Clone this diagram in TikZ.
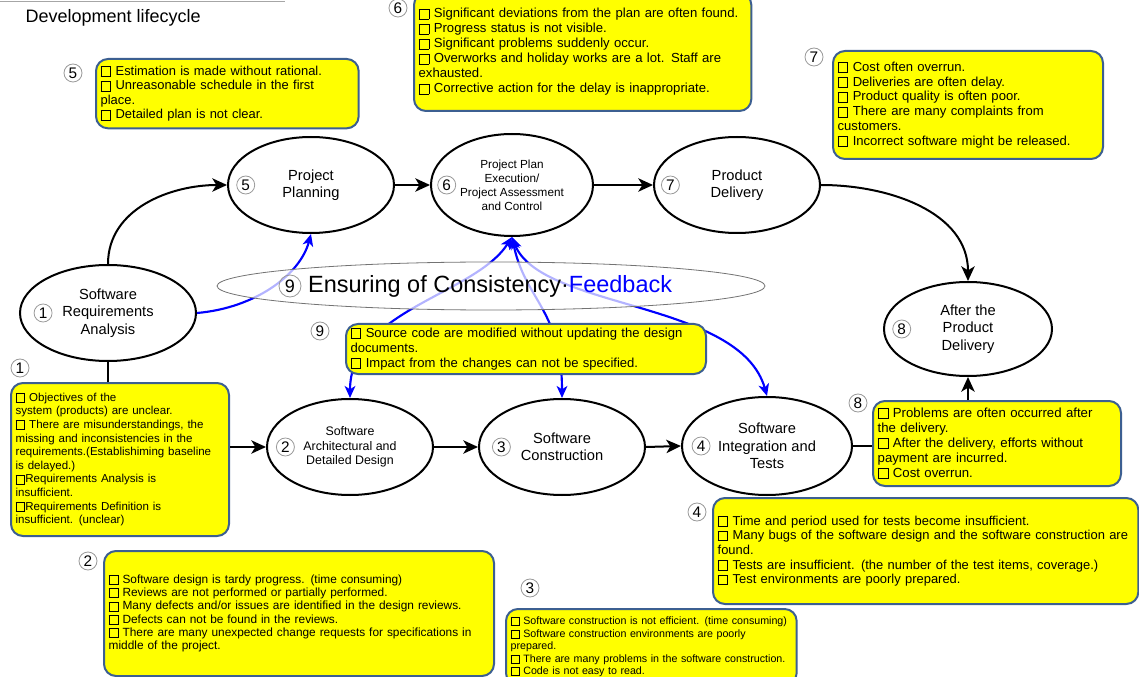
\documentclass[tikz,border=0pt]{standalone}
\usepackage{fontspec}
\setmainfont{Liberation Sans}
\usetikzlibrary{shapes.geometric,arrows.meta,positioning}
\definecolor{boxline}{RGB}{60,95,145}
\definecolor{boxfill}{RGB}{255,255,0}
\definecolor{fbblue}{RGB}{0,0,255}
\newcommand{\chk}{\raisebox{-0.06em}{\setlength{\fboxsep}{0pt}\setlength{\fboxrule}{0.7pt}\fbox{\rule{0pt}{0.68em}\hspace{0.68em}}}}
\tikzset{
  stage/.style={ellipse, draw, line width=1.5pt, inner sep=0pt, align=center, font=\fontsize{11}{13}\selectfont},
  num/.style={circle, draw=black!40, line width=0.6pt, inner sep=0pt, minimum size=13.5pt, font=\fontsize{11.5}{11.5}\selectfont},
  probbox/.style={rectangle, rounded corners=9pt, draw=boxline, line width=1.5pt, fill=boxfill, anchor=north west, align=left, inner xsep=3.5pt, inner ysep=1pt},
  flow/.style={line width=1.5pt, -{Stealth[length=11pt,width=10pt,inset=3pt]}},
  feed/.style={color=fbblue, line width=1.6pt, -{Stealth[length=9pt,width=8pt,inset=2.5pt]}},
  feedboth/.style={feed, {Stealth[length=9pt,width=8pt,inset=2.5pt]}-{Stealth[length=9pt,width=8pt,inset=2.5pt]}}
}

\begin{document}
\begin{tikzpicture}[x=0.75pt,y=0.75pt,yscale=-1,xscale=1]
\useasboundingbox (0,0) rectangle (1139,677);

%Straight Lines
\draw[black!35, line width=0.6pt] (0,1) -- (285,1);
% Text Node
\node[anchor=west, font=\fontsize{13.5}{13.5}\selectfont] (title) at (21,18) {Development lifecycle};

%Shape: Ellipse (stages)
\node[stage, minimum width=132pt, minimum height=72pt] (req) at (108,313) {Software\\Requirements\\Analysis};
\node[stage, minimum width=124.5pt, minimum height=72pt] (plan) at (311,185) {Project\\Planning};
\node[stage, minimum width=121.5pt, minimum height=76.5pt, font=\fontsize{8.8}{10.5}\selectfont] (exec) at (512,185) {Project Plan\\Execution/\\Project Assessment\\and Control};
\node[stage, minimum width=124.5pt, minimum height=72pt] (deliv) at (737,185) {Product\\Delivery};
\node[stage, minimum width=126pt, minimum height=70.5pt] (after) at (968,329) {After the\\Product\\Delivery};
\node[stage, minimum width=124.5pt, minimum height=72pt, font=\fontsize{9.3}{10.9}\selectfont] (design) at (350,447) {Software\\Architectural and\\Detailed Design};
\node[stage, minimum width=124.5pt, minimum height=72pt] (constr) at (562,447) {Software\\Construction};
\node[stage, minimum width=127.5pt, minimum height=73.5pt] (test) at (767,446) {Software\\Integration and\\Tests};

% numbers in the stages
\node[num, right=11pt of req.west] (n1) {1};
\node[num, right=7.5pt of design.west] (n2) {2};
\node[num, right=10.5pt of constr.west] (n3) {3};
\node[num, right=8pt of test.west] (n4) {4};
\node[num, right=7pt of plan.west] (n5) {5};
\node[num, right=5.5pt of exec.west] (n6) {6};
\node[num, right=6pt of deliv.west] (n7) {7};
\node[num, right=7pt of after.west] (n8) {8};

%Shape: Rounded Rect (problems)
\node[probbox, text width=190pt, minimum height=52pt, font=\fontsize{9.7}{10.9}\selectfont] (b5) at (95,58)
  {\chk\ Estimation is made without rational.\\\chk\ Unreasonable schedule in the first\\place.\\\chk\ Detailed plan is not clear.};
\node[probbox, text width=246pt, minimum height=88.5pt, font=\fontsize{9.85}{11.25}\selectfont] (b6) at (413,-8)
  {\chk\ Significant deviations from the plan are often found.\\\chk\ Progress status is not visible.\\\chk\ Significant problems suddenly occur.\\\chk\ Overworks and holiday works are a lot. Staff are\\exhausted.\\\chk\ Corrective action for the delay is inappropriate.};
\node[probbox, text width=195.5pt, minimum height=81pt, font=\fontsize{9.8}{11.1}\selectfont] (b7) at (832,50)
  {\chk\ Cost often overrun.\\\chk\ Deliveries are often delay.\\\chk\ Product quality is often poor.\\\chk\ There are many complaints from\\customers.\\\chk\ Incorrect software might be released.};
\node[probbox, text width=156.5pt, minimum height=114.75pt, font=\fontsize{8.65}{10.2}\selectfont] (b1) at (10,382)
  {\chk\ Objectives of the\\system (products) are unclear.\\\chk\ There are misunderstandings, the\\missing and inconsistencies in the\\requirements.(Establishiming baseline\\is delayed.)\\\chk Requirements Analysis is\\insufficient.\\\chk Requirements Definition is\\insufficient. (unclear)};
\node[probbox, text width=179pt, minimum height=63.75pt, font=\fontsize{9.9}{11.25}\selectfont] (b8) at (872,400)
  {\chk\ Problems are often occurred after\\the delivery.\\\chk\ After the delivery, efforts without\\payment are incurred.\\\chk\ Cost overrun.};
\node[probbox, text width=312pt, minimum height=79.5pt, font=\fontsize{9.7}{11}\selectfont] (b4) at (712,497)
  {\chk\ Time and period used for tests become insufficient.\\\chk\ Many bugs of the software design and the software construction are\\found.\\\chk\ Tests are insufficient. (the number of the test items, coverage.)\\\chk\ Test environments are poorly prepared.};
\node[probbox, text width=285.5pt, minimum height=93.75pt, font=\fontsize{8.9}{10}\selectfont] (b2) at (103,550)
  {\chk\ Software design is tardy progress. (time consuming)\\\chk\ Reviews are not performed or partially performed.\\\chk\ Many defects and/or issues are identified in the design reviews.\\\chk\ Defects can not be found in the reviews.\\\chk\ There are many unexpected change requests for specifications in\\middle of the project.};
\node[probbox, text width=211pt, minimum height=57pt, font=\fontsize{8}{9.4}\selectfont] (b3) at (505,608)
  {\chk\ Software construction is not efficient. (time consuming)\\\chk\ Software construction environments are poorly\\prepared.\\\chk\ There are many problems in the software construction.\\\chk\ Code is not easy to read.};

% numbers of the problems
\node[num] (p5) at (73,73) {5};
\node[num] (p6) at (398,8) {6};
\node[num] (p7) at (814,57) {7};
\node[num] (p1) at (20,368) {1};
\node[num] (p9) at (320,331) {9};
\node[num] (p8) at (858,403) {8};
\node[num] (p4) at (697,512) {4};
\node[num] (p2) at (88,561) {2};
\node[num] (p3) at (530,588) {3};

%Curve Lines (flow)
\draw[flow] (req.north) to[out=-90, in=180] (plan.west);
\draw[flow] (plan.east) -- (exec.west);
\draw[flow] (exec.east) -- (deliv.west);
\draw[flow] (deliv.east) to[out=0, in=-90] (after.north);
\draw[line width=1.5pt] (req.south) -- (req.south |- b1.north);
\draw[flow] (b1.east |- design.west) -- (design.west);
\draw[flow] (design.east) -- (constr.west);
\draw[flow] (constr.east) -- (test.west);
\draw[line width=1.5pt] (test.east) -- (test.east -| b8.west);
\draw[flow] (b8.north -| after.south) -- (after.south);

%Curve Lines (feedback)
\draw[feed] (req.east) .. controls (255,308) and (300,275) .. (plan.south);
\draw[feedboth] (exec.south) .. controls (475,295) and (350,310) .. (design.north);
\draw[feedboth] (exec.south) .. controls (525,300) and (562,310) .. (constr.north);
\draw[feedboth] (exec.south) .. controls (540,310) and (740,300) .. (test.north);

%Shape: Ellipse (consistency)
\node[ellipse, draw=black!55, line width=0.6pt, fill=white, fill opacity=0.7, minimum width=411pt, minimum height=36pt] (cons) at (491,286) {};
\node[num, minimum size=16.5pt, font=\fontsize{13.5}{13.5}\selectfont] (n9) at (290,286) {9};
\node[right=1.5pt of n9, font=\fontsize{17.6}{17.6}\selectfont] (constext) {Ensuring of Consistency·\textcolor{fbblue}{Feedback}};

\node[probbox, text width=263pt, minimum height=37.5pt, font=\fontsize{9.8}{11.25}\selectfont] (b9) at (345,323)
  {\chk\ Source code are modified without updating the design\\documents.\\\chk\ Impact from the changes can not be specified.};

\end{tikzpicture}
\end{document}
